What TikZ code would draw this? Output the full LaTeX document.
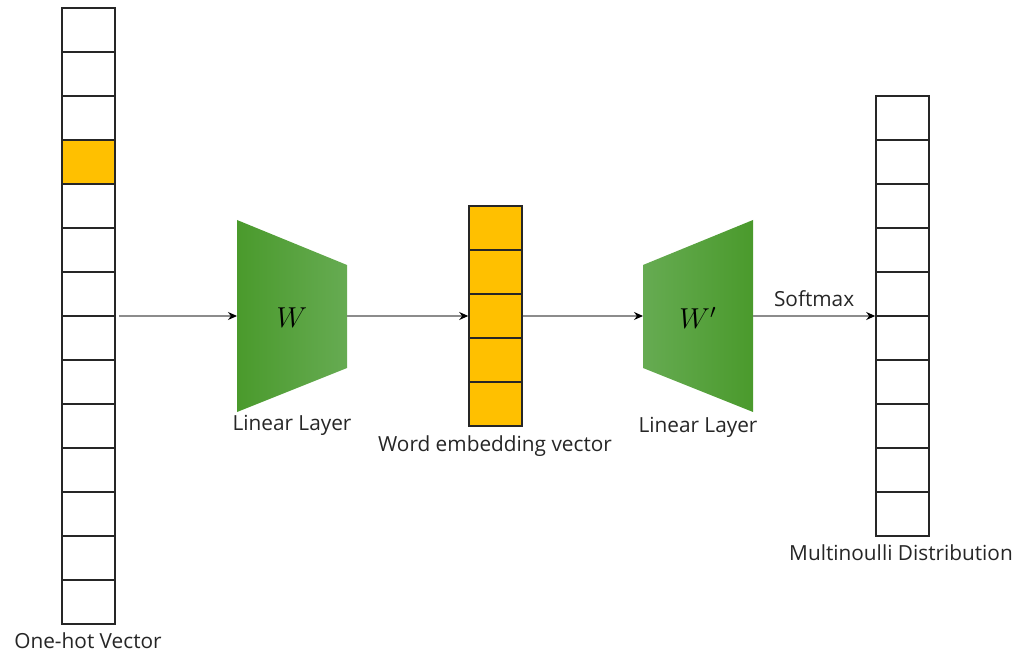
\documentclass[tikz,border=0pt]{standalone}
\usepackage{fontspec}
\setmainfont{Open Sans}
\usepackage{tikz}
\usetikzlibrary{calc,arrows.meta}
\definecolor{ink}{HTML}{262626}
\definecolor{cellline}{HTML}{262626}
\definecolor{hot}{HTML}{FFC000}
\definecolor{gdark}{HTML}{4A9A2C}
\definecolor{glight}{HTML}{66AB52}
\definecolor{wire}{HTML}{8C8C8C}
\tikzset{
  vec/.style={draw=cellline, line width=0.8pt, minimum width=26.5pt, inner sep=0pt},
  cell/.style={draw=cellline, line width=0.8pt},
  conn/.style={draw=wire, line width=0.6pt, -{Stealth[length=4.5pt,width=4pt,color=black]}},
  lab/.style={text=ink, font=\fontsize{10.4}{12}\selectfont},
}

\begin{document}
\begin{tikzpicture}[x=0.5pt,y=-0.5pt]
  \useasboundingbox (0,0) rectangle (1027,662);

  % one-hot vector (14 cells)
  \fill[hot] (62,140) rectangle (115,184);
  \node[vec, minimum height=308pt] (onehot) at (88.5,316) {};
  \foreach \i in {1,...,13}
    \draw[cell] (62,8+44*\i) -- (115,8+44*\i);
  \node[lab] (ohlab) at (88,641) {One-hot Vector};

  % first linear layer
  \coordinate (encin) at (237,316);
  \coordinate (encout) at (347,316);
  \shade[left color=gdark, right color=glight]
    (237,220) -- (347,265) -- (347,368) -- (237,412) -- cycle;
  \node (encw) at (292,318) {\Large $W$};
  \node[lab] (enclab) at (292,425) {Linear Layer};

  % word embedding vector (5 cells)
  \node[vec, fill=hot, minimum height=110pt] (emb) at (495.5,316) {};
  \foreach \i in {1,...,4}
    \draw[cell] (469,206+44*\i) -- (522,206+44*\i);
  \node[lab] (emblab) at (495,446) {Word embedding vector};

  % second linear layer
  \coordinate (decin) at (643,316);
  \coordinate (decout) at (753,316);
  \shade[left color=glight, right color=gdark]
    (643,265) -- (753,220) -- (753,412) -- (643,368) -- cycle;
  \node (decw) at (698,318) {\Large $W'$};
  \node[lab] (declab) at (698,427) {Linear Layer};

  % output distribution (10 cells)
  \node[vec, minimum height=220pt] (dist) at (902.5,316) {};
  \foreach \i in {1,...,9}
    \draw[cell] (876,96+44*\i) -- (929,96+44*\i);
  \node[lab] (distlab) at (901,553) {Multinoulli Distribution};

  \draw[conn] ($(onehot.east)+(3,0)$) -- (encin);
  \draw[conn] (encout) -- (emb.west);
  \draw[conn] (emb.east) -- (decin);
  \draw[conn] (decout) -- node[lab, above=1pt] (smax) {Softmax} (dist.west);
\end{tikzpicture}
\end{document}
